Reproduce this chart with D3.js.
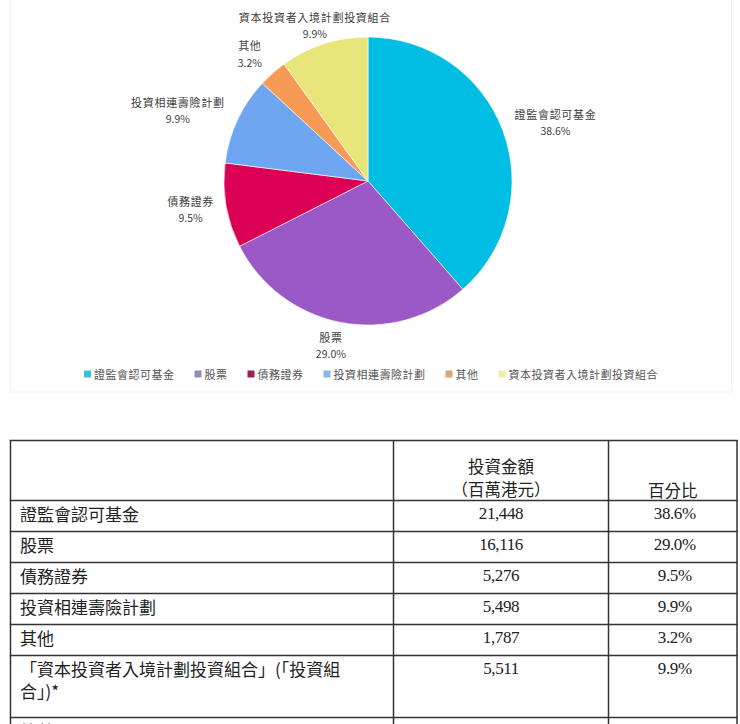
<!DOCTYPE html>
<html><head><meta charset="utf-8">
<script src="https://cdn.jsdelivr.net/npm/d3@7"></script>
<style>body{margin:0;background:#fff;} svg{display:block}</style>
</head><body>
<svg id="c" width="740" height="724"></svg>
<script>
// ---- data ----
const categories = ["證監會認可基金","股票","債務證券","投資相連壽險計劃","其他","資本投資者入境計劃投資組合"];
const amounts = [21448,16116,5276,5498,1787,5511];
const percents = ["38.6%","29.0%","9.5%","9.9%","3.2%","9.9%"];
const tableLabels = ["證監會認可基金","股票","債務證券","投資相連壽險計劃","其他","「資本投資者入境計劃投資組合」(「投資組合」)*"];
const amountLabels = ["21,448","16,116","5,276","5,498","1,787","5,511"];
const totalLabel = "總數";
const headerAmount = ["投資金額","（百萬港元）"];
const headerPct = "百分比";

// ---- styles ----
const pieColors = ["#00BDE3","#9B59C8","#DC0055","#6FA6F2","#F79A55","#E8E67A"];
const legendColors = ["#3DBFD9","#8C8CB8","#9C2050","#8FB8E0","#DBA678","#EDEDB0"];
const cjk = "'Noto Sans CJK TC','Noto Sans CJK SC',sans-serif";
const serif = "'Liberation Serif','DejaVu Serif',serif";

const svg = d3.select("#c");

// chart frame
svg.append("rect").attr("x",10.5).attr("y",-1).attr("width",721).attr("height",393)
  .attr("fill","none").attr("stroke","#f1f1f1");

// ---- pie ----
const cx = 368, cy = 181, R = 144;
const g = svg.append("g").attr("transform",`translate(${cx},${cy})`);
const pie = d3.pie().sort(null).value(d=>d)(amounts);
const arc = d3.arc().innerRadius(0).outerRadius(R);
g.selectAll("path").data(pie).join("path")
  .attr("d",arc).attr("fill",(d,i)=>pieColors[i])
  .attr("stroke","#ffffff").attr("stroke-width",0.6);

const labelArc = d3.arc().innerRadius(180).outerRadius(180);
const nudge = [[19,4],[-3,-13],[0,-3],[-27,5],[1,7],[2,15]];
pie.forEach((d,i)=>{
  const [x,y] = labelArc.centroid(d);
  const lx = x + nudge[i][0], ly = y + nudge[i][1];
  const t = g.append("g").attr("transform",`translate(${lx},${ly})`)
    .attr("font-family",cjk).attr("font-size",11).attr("fill","#404040")
    .attr("text-anchor","middle");
  t.append("text").attr("y",-8).attr("dominant-baseline","central")
    .attr("letter-spacing",0.7).text(categories[i]);
  t.append("text").attr("y",9).attr("dominant-baseline","central")
    .attr("font-size",10.5).text(percents[i]);
});

// ---- legend ----
const lg = svg.append("g").attr("font-family",cjk).attr("font-size",11).attr("fill","#555");
let lx = 0;
categories.forEach((c,i)=>{
  const it = lg.append("g");
  it.append("rect").attr("x",0).attr("y",-3.5).attr("width",7).attr("height",7).attr("fill",legendColors[i]);
  const tx = it.append("text").attr("x",10).attr("dominant-baseline","central")
    .attr("letter-spacing",0.5).text(c);
  const w = 10 + tx.node().getComputedTextLength();
  it.attr("transform",`translate(${lx},0)`);
  lx += w + (i < categories.length-1 ? 20 : 0);
});
lg.attr("transform",`translate(${371 - lx/2},374)`);

// ---- table ----
const colX = [10.5, 393.5, 608.5, 737];
const rowTops = [440, 500, 531, 562, 593, 624, 655, 717, 760];
const tb = svg.append("g");
rowTops.slice(0,8).forEach(y=>{
  tb.append("line").attr("x1",colX[0]-0.75).attr("x2",colX[3]+0.75).attr("y1",y+0.5).attr("y2",y+0.5)
    .attr("stroke","#333").attr("stroke-width",1.5);
});
colX.forEach(x=>{
  tb.append("line").attr("x1",x).attr("x2",x).attr("y1",440).attr("y2",724)
    .attr("stroke","#333").attr("stroke-width",1.5);
});
const tcol = "#222";
// header
tb.append("text").attr("x",(colX[1]+colX[2])/2).attr("y",466).attr("text-anchor","middle")
  .attr("dominant-baseline","central").attr("font-family",cjk).attr("font-size",16.5).attr("fill",tcol).text(headerAmount[0]);
tb.append("text").attr("x",(colX[1]+colX[2])/2).attr("y",489).attr("text-anchor","middle")
  .attr("dominant-baseline","central").attr("font-family",cjk).attr("font-size",16.5).attr("fill",tcol).text(headerAmount[1]);
tb.append("text").attr("x",(colX[2]+colX[3])/2).attr("y",490).attr("text-anchor","middle")
  .attr("dominant-baseline","central").attr("font-family",cjk).attr("font-size",16.5).attr("fill",tcol).text(headerPct);

function wrap(str, maxW){
  const tmp = tb.append("text").attr("font-family",cjk).attr("font-size",17);
  const lines=[]; let cur="";
  for(const ch of str){
    tmp.text(cur+ch);
    if(tmp.node().getComputedTextLength()>maxW && cur){ lines.push(cur); cur=ch; }
    else cur+=ch;
  }
  if(cur) lines.push(cur);
  tmp.remove();
  return lines;
}

tableLabels.forEach((lab,i)=>{
  const top = rowTops[i+1];
  const yc = top + 13;
  const lines = wrap(lab, 328);
  lines.forEach((ln,k)=>{
    tb.append("text").attr("x",20).attr("y",yc + k*22).attr("dominant-baseline","central")
      .attr("font-family",cjk).attr("font-size",17).attr("fill",tcol).text(ln);
  });
  tb.append("text").attr("x",(colX[1]+colX[2])/2).attr("y",yc+6).attr("text-anchor","middle")
    .attr("font-family",serif).attr("font-size",17).attr("letter-spacing",-0.4).attr("fill",tcol).text(amountLabels[i]);
  tb.append("text").attr("x",(colX[2]+colX[3])/2+2).attr("y",yc+6).attr("text-anchor","middle")
    .attr("font-family",serif).attr("font-size",17).attr("letter-spacing",-0.4).attr("fill",tcol).text(percents[i]);
});
tb.append("text").attr("x",20).attr("y",rowTops[7]+13).attr("dominant-baseline","central")
  .attr("font-family",cjk).attr("font-size",17).attr("fill",tcol).text(totalLabel);
</script>
</body></html>
